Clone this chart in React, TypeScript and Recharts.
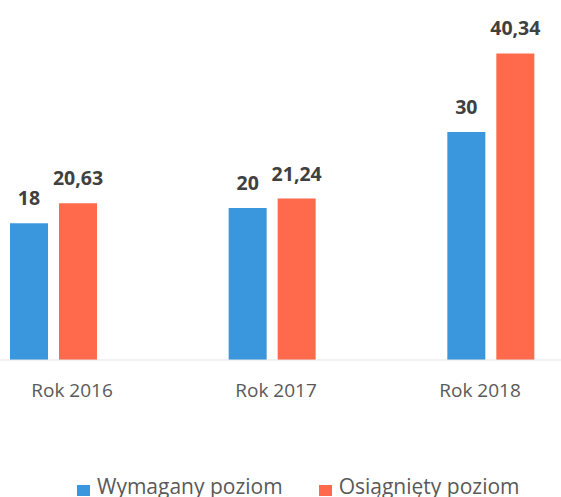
import React from 'react';
import { BarChart, Bar, XAxis, YAxis, LabelList } from 'recharts';

const years = ['Rok 2016', 'Rok 2017', 'Rok 2018'];
const wymagany = [18, 20, 30];
const osiagniety = [20.63, 21.24, 40.34];

const series = [
  { key: 'wymagany', label: 'Wymagany poziom', color: '#3a97de' },
  { key: 'osiagniety', label: 'Osiągnięty poziom', color: '#fe6a4b' },
];

const data = years.map((year, i) => ({
  year,
  wymagany: wymagany[i],
  osiagniety: osiagniety[i],
}));

const FONT = '"Open Sans", Calibri, sans-serif';

const formatValue = (v: number | string) => String(v).replace('.', ',');

export default function App() {
  return (
    <div
      style={{
        position: 'fixed',
        left: 0,
        top: 0,
        width: 561,
        height: 497,
        overflow: 'hidden',
        background: '#ffffff',
        fontFamily: FONT,
      }}
    >
      <div style={{ position: 'absolute', left: -56, top: 0 }}>
        <BarChart
          width={656}
          height={497}
          data={data}
          margin={{ top: 18, right: 0, left: 0, bottom: 107 }}
          barSize={38}
          barGap={11}
        >
          {/* axis for bars */}
          <XAxis dataKey="year" hide height={0} />
          {/* label axis: the scanned labels sit a little closer together than the bars */}
          <XAxis
            xAxisId="labels"
            dataKey="year"
            height={30}
            padding={{ left: 26, right: 18 }}
            tickLine={false}
            axisLine={{ stroke: '#e3e3e3' }}
            tickMargin={18}
            tick={{ fontSize: 19, fill: '#595959', fontFamily: FONT }}
            interval={0}
          />
          <YAxis hide domain={[0, 45]} />
          {series.map((s) => (
            <Bar key={s.key} dataKey={s.key} name={s.label} fill={s.color} isAnimationActive={false}>
              <LabelList
                dataKey={s.key}
                position="top"
                offset={18}
                formatter={formatValue}
                style={{ fontSize: 19.5, fontWeight: 700, fill: '#404040', fontFamily: FONT }}
              />
            </Bar>
          ))}
        </BarChart>
      </div>

      {/* legend */}
      <div
        style={{
          position: 'absolute',
          left: 77,
          top: 476,
          display: 'flex',
          fontSize: 21,
          lineHeight: 1,
          color: '#595959',
          whiteSpace: 'nowrap',
        }}
      >
        {series.map((s, i) => (
          <div key={s.key} style={{ display: 'flex', marginRight: i === 0 ? 36 : 0 }}>
            <div style={{ width: 13, height: 11, background: s.color, marginTop: 9, marginRight: 7 }} />
            <span>{s.label}</span>
          </div>
        ))}
      </div>
    </div>
  );
}
